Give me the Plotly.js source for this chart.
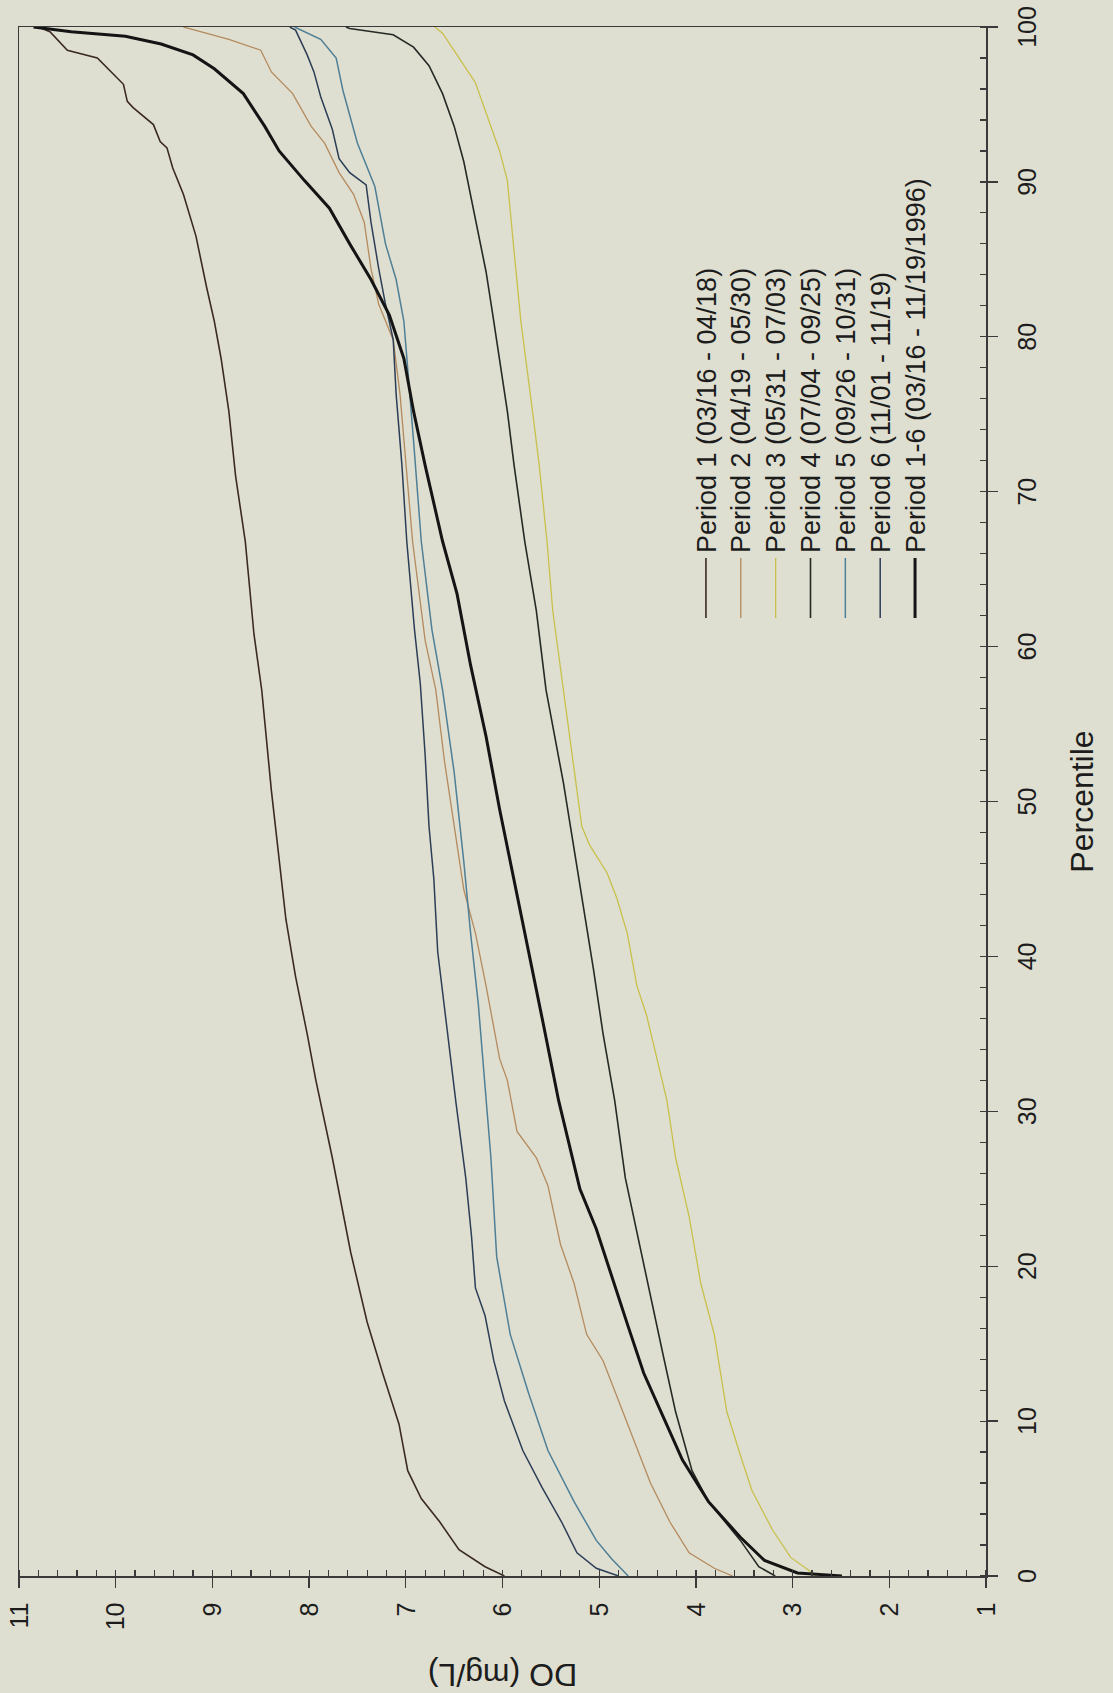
<!DOCTYPE html>
<html>
<head>
<meta charset="utf-8">
<script src="https://cdn.plot.ly/plotly-3.0.1.min.js"></script>
<style>
  html, body { margin: 0; padding: 0; width: 1113px; height: 1693px; overflow: hidden; background: #dedfd0; }
  #chart { position: absolute; left: 0; top: 0; width: 1693px; height: 1113px;
           transform-origin: 0 0; transform: translate(0px, 1693px) rotate(-90deg); }
</style>
</head>
<body>
<div id="chart"></div>
<script>
// Series names
const seriesNames = [
  "Period 1 (03/16 - 04/18)",
  "Period 2 (04/19 - 05/30)",
  "Period 3 (05/31 - 07/03)",
  "Period 4 (07/04 - 09/25)",
  "Period 5 (09/26 - 10/31)",
  "Period 6 (11/01 - 11/19)",
  "Period 1-6 (03/16 - 11/19/1996)"
];

// Period 1
const p1Pct = [0, 0.6, 1.7, 3.5, 5.0, 6.8, 9.8, 13.1, 16.4, 20.9, 27.0, 32.0, 35.0, 38.7, 42.4, 46.1, 50.7, 57.2, 60.8, 66.8, 71.0, 75.2, 78.6, 81.0, 83.2, 86.5, 89.2, 90.9, 92.2, 92.6, 93.7, 94.8, 95.2, 96.3, 97.4, 98.0, 98.5, 99.7, 100];
const p1DO  = [5.98, 6.18, 6.45, 6.65, 6.84, 6.98, 7.07, 7.24, 7.40, 7.57, 7.76, 7.93, 8.02, 8.14, 8.24, 8.31, 8.39, 8.49, 8.57, 8.66, 8.76, 8.83, 8.91, 8.98, 9.06, 9.17, 9.30, 9.41, 9.47, 9.54, 9.61, 9.82, 9.88, 9.92, 10.09, 10.19, 10.50, 10.68, 10.80];

// Period 2
const p2Pct = [0, 0.5, 1.5, 3.5, 6.0, 8.1, 10.6, 13.9, 15.6, 18.9, 21.4, 25.2, 27.0, 28.7, 32.0, 33.4, 38.1, 41.5, 44.3, 48.4, 52.6, 57.2, 60.4, 66.8, 71.7, 76.3, 79.8, 82.1, 84.4, 87.4, 89.2, 90.6, 92.5, 93.6, 95.7, 97.1, 98.5, 99.2, 99.8, 100];
const p2DO  = [3.62, 3.81, 4.07, 4.27, 4.47, 4.60, 4.76, 4.96, 5.13, 5.26, 5.40, 5.53, 5.65, 5.85, 5.95, 6.03, 6.17, 6.28, 6.40, 6.50, 6.60, 6.69, 6.80, 6.93, 7.00, 7.06, 7.13, 7.28, 7.36, 7.43, 7.54, 7.69, 7.84, 7.98, 8.17, 8.39, 8.50, 8.83, 9.18, 9.30];

// Period 3
const p3Pct = [0, 1.2, 3.0, 5.5, 7.8, 10.6, 15.6, 18.9, 23.2, 27.0, 30.7, 33.4, 36.2, 38.1, 41.5, 43.8, 45.4, 47.2, 48.4, 50.7, 55.3, 58.8, 62.3, 66.8, 71.7, 75.2, 81.0, 85.5, 90.1, 92.0, 93.9, 96.4, 98.2, 99.6, 100];
const p3DO  = [2.75, 3.02, 3.21, 3.42, 3.54, 3.68, 3.81, 3.95, 4.07, 4.21, 4.30, 4.40, 4.51, 4.61, 4.71, 4.82, 4.92, 5.10, 5.18, 5.23, 5.33, 5.40, 5.48, 5.54, 5.62, 5.69, 5.81, 5.88, 5.95, 6.03, 6.14, 6.28, 6.47, 6.62, 6.70];

// Period 4
const p4Pct = [0, 0.6, 2.3, 4.8, 6.8, 10.6, 14.3, 18.1, 21.9, 25.7, 30.7, 35.0, 39.2, 43.4, 47.2, 51.2, 57.2, 62.3, 66.8, 71.7, 75.2, 78.6, 81.4, 84.2, 86.7, 89.0, 91.3, 93.6, 95.7, 97.5, 98.7, 99.5, 99.9, 100];
const p4DO  = [3.18, 3.35, 3.54, 3.87, 4.04, 4.21, 4.34, 4.47, 4.60, 4.73, 4.84, 4.96, 5.06, 5.17, 5.27, 5.37, 5.55, 5.65, 5.77, 5.88, 5.95, 6.03, 6.10, 6.17, 6.25, 6.33, 6.40, 6.50, 6.62, 6.76, 6.92, 7.13, 7.58, 7.62];

// Period 5
const p5Pct = [0, 1.1, 2.3, 4.8, 8.1, 11.8, 15.6, 20.6, 27.0, 30.7, 36.9, 41.5, 46.1, 51.9, 57.2, 61.1, 66.8, 73.3, 81.0, 83.7, 86.0, 89.7, 92.5, 95.9, 98.0, 99.2, 99.8, 100];
const p5DO  = [4.70, 4.87, 5.03, 5.26, 5.53, 5.73, 5.92, 6.06, 6.12, 6.17, 6.25, 6.33, 6.40, 6.50, 6.62, 6.73, 6.84, 6.92, 7.02, 7.10, 7.21, 7.32, 7.50, 7.65, 7.72, 7.88, 8.09, 8.15];

// Period 6
const p6Pct = [0, 0.5, 1.5, 3.5, 5.7, 8.1, 11.3, 13.9, 16.8, 18.6, 21.9, 25.7, 30.5, 36.9, 40.3, 45.0, 48.4, 53.0, 57.6, 61.1, 66.8, 71.7, 76.3, 79.8, 82.1, 84.4, 87.4, 89.8, 90.6, 91.5, 93.4, 95.5, 97.1, 98.2, 99.8, 100];
const p6DO  = [4.80, 5.03, 5.23, 5.39, 5.59, 5.79, 5.98, 6.09, 6.18, 6.28, 6.32, 6.38, 6.48, 6.60, 6.67, 6.71, 6.76, 6.80, 6.85, 6.91, 6.99, 7.04, 7.10, 7.13, 7.21, 7.28, 7.36, 7.41, 7.58, 7.69, 7.76, 7.88, 7.95, 8.02, 8.14, 8.20];

// Period 1-6
const pAllPct = [0, 0.2, 1.0, 2.5, 4.8, 7.5, 10.3, 13.1, 16.1, 19.4, 22.4, 25.0, 28.2, 30.7, 35.7, 40.3, 45.0, 49.5, 54.2, 58.8, 63.4, 66.8, 71.7, 75.2, 78.6, 81.4, 83.7, 86.0, 88.3, 90.1, 92.0, 93.6, 95.7, 97.3, 98.2, 98.9, 99.4, 99.7, 100];
const pAllDO  = [2.49, 2.95, 3.29, 3.54, 3.87, 4.14, 4.34, 4.54, 4.70, 4.87, 5.03, 5.20, 5.32, 5.42, 5.58, 5.73, 5.88, 6.03, 6.17, 6.33, 6.47, 6.62, 6.80, 6.92, 7.02, 7.17, 7.36, 7.58, 7.79, 8.05, 8.31, 8.46, 8.68, 8.98, 9.20, 9.53, 9.90, 10.46, 10.85];

const allPct = [p1Pct, p2Pct, p3Pct, p4Pct, p5Pct, p6Pct, pAllPct];
const allDO  = [p1DO, p2DO, p3DO, p4DO, p5DO, p6DO, pAllDO];

const lineColors = ["#3b2a24", "#b48a5e", "#c9c04c", "#262a26", "#4f7f96", "#2c3d56", "#141414"];
const lineWidths = [1.6, 1.3, 1.3, 1.6, 1.5, 1.5, 3];

const FONT = "Liberation Sans, Arial, sans-serif";
const BG = "#dedfd0";
const AX = "#3a3a3a";

const traces = seriesNames.map((name, i) => ({
  type: "scatter",
  mode: "lines",
  name: '<span style="font-size:27px">' + name + '</span>',
  x: allPct[i],
  y: allDO[i],
  line: { color: lineColors[i], width: lineWidths[i] }
}));

const layout = {
  width: 1693,
  height: 1113,
  paper_bgcolor: BG,
  plot_bgcolor: BG,
  font: { family: FONT, size: 25, color: "#1c1c1c" },
  margin: { l: 117, r: 27, t: 19, b: 127, pad: 0 },
  showlegend: true,
  legend: {
    x: 0.6152, y: 0.3128, xanchor: "left", yanchor: "top",
    bgcolor: "rgba(0,0,0,0)", borderwidth: 0,
    font: { family: FONT, size: 24.5, color: "#1c1c1c" },
    itemwidth: 60, tracegroupgap: 0
  },
  xaxis: {
    range: [0, 100],
    tick0: 0, dtick: 10,
    ticks: "outside", ticklen: 10, tickwidth: 1.3, tickcolor: AX,
    minor: { dtick: 2, ticks: "inside", ticklen: 6, tickwidth: 1.2, tickcolor: AX, showgrid: false },
    showline: true, linecolor: AX, linewidth: 1.5, mirror: true,
    showgrid: false, zeroline: false,
    tickfont: { family: FONT, size: 25, color: "#1c1c1c" },
    ticklabelstandoff: 8,
    title: { text: "Percentile", font: { family: FONT, size: 32, color: "#1c1c1c" }, standoff: 31 }
  },
  yaxis: {
    range: [1, 11],
    tick0: 1, dtick: 1,
    ticks: "outside", ticklen: 10, tickwidth: 1.3, tickcolor: AX,
    minor: { dtick: 0.2, ticks: "inside", ticklen: 6, tickwidth: 1.2, tickcolor: AX, showgrid: false },
    showline: true, linecolor: AX, linewidth: 1.5, mirror: true,
    showgrid: false, zeroline: false,
    tickfont: { family: FONT, size: 25, color: "#1c1c1c" },
    ticklabelstandoff: 10,
    title: { text: "DO (mg/L)", font: { family: FONT, size: 32, color: "#1c1c1c" }, standoff: 35 }
  }
};

Plotly.newPlot("chart", traces, layout, { displayModeBar: false, staticPlot: true });
</script>
</body>
</html>
